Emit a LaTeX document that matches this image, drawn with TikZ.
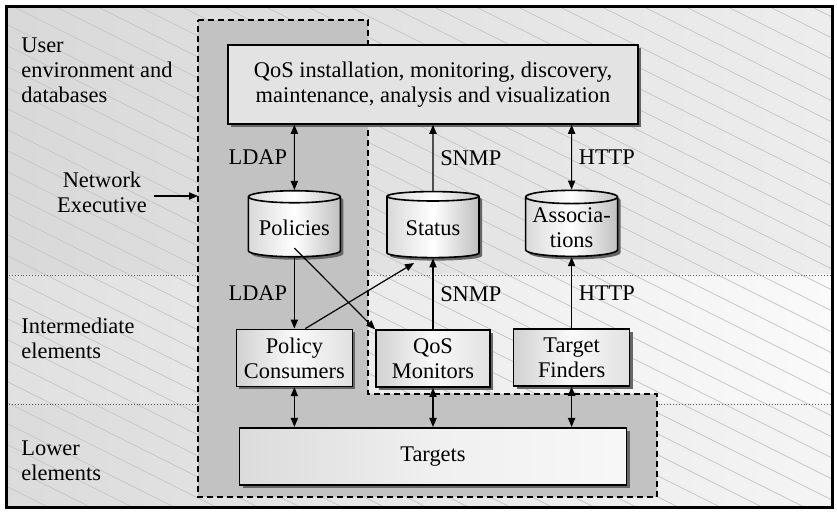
\documentclass[tikz,border=0pt]{standalone}
\usepackage{fontspec}
\setmainfont{Liberation Serif}
\usetikzlibrary{arrows.meta,positioning,shapes.geometric,shadows,calc}
\tikzset{
  qbox/.style={draw=black, line width=0.8pt, align=center, inner sep=2pt, fill=black!11, drop shadow={shadow xshift=1.5pt, shadow yshift=-1.5pt, fill=black!60, opacity=1}},
  sbox/.style={qbox, left color=black!18, right color=black!12, middle color=black!2, minimum width=58pt, minimum height=28.5pt},
  dbcyl/.style={cylinder, shape border rotate=90, aspect=0.16, draw=black, line width=0.8pt, align=center, inner sep=1pt, minimum width=46pt, minimum height=33pt, left color=black!15, right color=black!25, middle color=white, drop shadow={shadow xshift=1.5pt, shadow yshift=-1.5pt, fill=black!60, opacity=1}},
  sidelbl/.style={anchor=north west, align=left, inner sep=0pt},
  farr/.style={-{Triangle[length=4.5pt,width=3.6pt]}, line width=0.6pt},
  fdarr/.style={{Triangle[length=4.5pt,width=3.6pt]}-{Triangle[length=4.5pt,width=3.6pt]}, line width=0.6pt},
  hatch/.style={draw=black!22, line width=0.35pt},
  sepline/.style={draw=black!65, densely dotted, line width=0.45pt},
  netreg/.style={draw=black, fill=black!24, dashed, dash pattern=on 3pt off 2pt, line width=0.6pt}
}
\begin{document}
\begin{tikzpicture}[x=0.5pt, y=-0.5pt, font=\fontsize{11.2}{12.5}\selectfont]
\useasboundingbox (0,0) rectangle (837,512);
% background bands
\fill[left color=black!15, right color=black!7] (6,7) rectangle (832,275);
\fill[left color=black!12, right color=black!2] (6,275) rectangle (832,404);
\fill[left color=black!14, right color=black!4] (6,404) rectangle (832,508);
\begin{scope}
  \clip (6,7) rectangle (832,508);
  \foreach \k in {-26,...,25} \draw[hatch] (0,\k*21) -- ++(1000,500);
\end{scope}
\draw[sepline] (6,275) -- (832,275);
\draw[sepline] (6,404) -- (832,404);
% network executive area
\draw[netreg] (198,20) -- (368,20) -- (368,394) -- (657,394) -- (657,497) -- (198,497) -- cycle;

\node[sidelbl] (ulbl) at (21,37) {User\\environment and\\databases};
\node[sidelbl] (ilbl) at (21,318) {Intermediate\\elements};
\node[sidelbl] (lolbl) at (21,440) {Lower\\elements};

\node[qbox, minimum width=205pt, minimum height=39.5pt] (qos) at (433,84.5) {QoS installation, monitoring, discovery,\\maintenance, analysis and visualization};
\node[dbcyl, below=33pt of qos] (stat) {Status};
\node[dbcyl, left=22.5pt of stat] (pol) {Policies};
\node[dbcyl, right=22.5pt of stat] (assoc) {Associa-\\tions};
\node[sbox, below=35.5pt of pol] (pcons) {Policy\\Consumers};
\node[sbox, below=35.5pt of stat, minimum width=57pt] (qmon) {QoS\\Monitors};
\node[sbox, below=35.5pt of assoc] (tfind) {Target\\Finders};
\node[sbox, below=19.5pt of qmon, minimum width=193.5pt, left color=black!14, right color=black!3, middle color=black!6] (tgt) {Targets};

\node[align=center] (netex) at (102,192) {Network\\Executive};
\coordinate (netin) at (198,196);
\draw[farr] (netex.east |- netin) -- (netin);

\draw[fdarr] (pol) -- (pol |- qos.south) node[midway,left] {LDAP};
\draw[farr] (stat) -- (stat |- qos.south) node[midway,right] {SNMP};
\draw[fdarr] (assoc) -- (assoc |- qos.south) node[midway,right] {HTTP};
\draw[farr] (pol) -- (pcons) node[midway,left] {LDAP};
\draw[farr] (qmon) -- (stat) node[midway,right] {SNMP};
\draw[farr] (tfind) -- (assoc) node[midway,right] {HTTP};
\draw[farr] ([yshift=-10pt]pol.center) -- (qmon.north west);
\draw[farr] ([xshift=5.5pt]pcons.north) -- ($(stat.center)+(-19,35)$);
\draw[fdarr] (pcons.south) -- (pcons.south |- tgt.north);
\draw[fdarr] (qmon.south) -- (qmon.south |- tgt.north);
\draw[fdarr] (tfind.south) -- (tfind.south |- tgt.north);

\draw[line width=1.5pt] (6,7) rectangle (832,508);
\end{tikzpicture}
\end{document}
